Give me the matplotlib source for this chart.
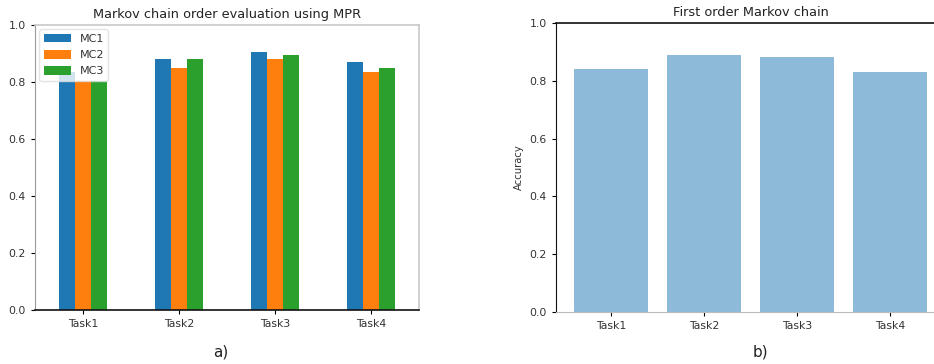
import numpy as np
import matplotlib
matplotlib.use("Agg")
import matplotlib.pyplot as plt

# Data
tasks = ["Task1", "Task2", "Task3", "Task4"]
series_names = ["MC1", "MC2", "MC3"]
mc1 = [0.835, 0.881, 0.904, 0.869]
mc2 = [0.802, 0.848, 0.881, 0.836]
mc3 = [0.803, 0.881, 0.895, 0.848]
first_order = [0.840, 0.889, 0.881, 0.830]
y_ticks = [0.0, 0.2, 0.4, 0.6, 0.8, 1.0]

colors = ["#1f77b4", "#ff7f0e", "#2ca02c"]
tick_fs = 7.8

fig = plt.figure(figsize=(9.34, 3.64), dpi=100)

# ---- (a) grouped bars ----
ax1 = fig.add_axes([0.0375, 0.1484, 0.4111, 0.7829])
x = np.arange(len(tasks))
w = 0.5 / 3
for i, (vals, name) in enumerate(zip([mc1, mc2, mc3], series_names)):
    ax1.bar(x + (i - 1) * w, vals, width=w, color=colors[i], label=name)
ax1.set_xlim(-0.5, len(tasks) - 0.5)
ax1.set_ylim(0, 1.0)
ax1.set_xticks(x)
ax1.set_xticklabels(tasks, fontsize=tick_fs, color="#333333")
ax1.set_yticks(y_ticks)
ax1.set_yticklabels([f"{t:.1f}" for t in y_ticks], fontsize=tick_fs, color="#333333")
ax1.tick_params(length=3, width=0.8)
ax1.set_title("Markov chain order evaluation using MPR", fontsize=9.3, color="#222222", pad=5)
for side in ["top", "right"]:
    ax1.spines[side].set_color("#c8c8c8")
    ax1.spines[side].set_linewidth(1.2)
ax1.spines["left"].set_color("#999999")
ax1.spines["bottom"].set_color("#111111")
ax1.spines["bottom"].set_linewidth(1.2)
leg = ax1.legend(loc="upper left", fontsize=tick_fs + 0.2, frameon=True,
                 borderaxespad=0.4, handlelength=2.4, handleheight=0.8,
                 labelspacing=0.55)
leg.get_frame().set_edgecolor("#dddddd")
for t in leg.get_texts():
    t.set_color("#333333")

# ---- (b) single series ----
ax2 = fig.add_axes([0.5953, 0.1429, 0.4165, 0.7939])
ax2.bar(x, first_order, width=0.8, color="#1f77b4", alpha=0.5)
ax2.set_ylim(0, 1.0)
ax2.set_xticks(x)
ax2.set_xticklabels(tasks, fontsize=tick_fs, color="#333333")
ax2.set_yticks(y_ticks)
ax2.set_yticklabels([f"{t:.1f}" for t in y_ticks], fontsize=tick_fs, color="#333333")
ax2.tick_params(length=3, width=0.8)
ax2.set_ylabel("Accuracy", fontsize=7.2, color="#333333")
ax2.set_title("First order Markov chain", fontsize=9.3, color="#222222", pad=5)
ax2.spines["left"].set_color("#111111")
ax2.spines["top"].set_color("#111111")
ax2.spines["top"].set_linewidth(1.2)
ax2.spines["bottom"].set_color("#bbbbbb")
ax2.spines["right"].set_visible(False)

fig.text(221 / 934, 1 - 352 / 364, "a)", fontsize=11, ha="center", va="center", color="#222222")
fig.text(760 / 934, 1 - 352 / 364, "b)", fontsize=11, ha="center", va="center", color="#222222")

fig.savefig("out.png", dpi=100)
